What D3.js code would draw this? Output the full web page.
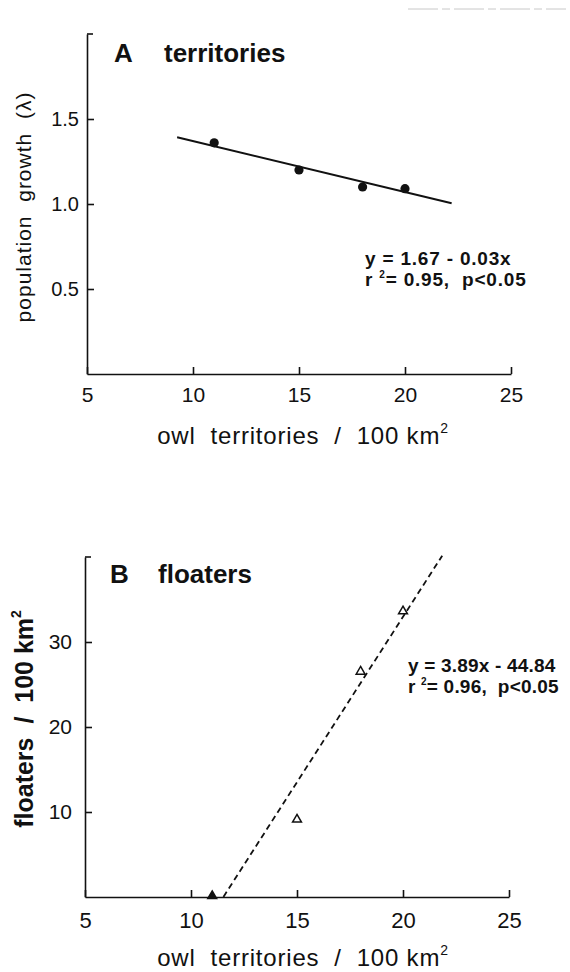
<!DOCTYPE html>
<html>
<head>
<meta charset="utf-8">
<script src="https://cdn.jsdelivr.net/npm/d3@7"></script>
<style>
  html, body { margin: 0; padding: 0; background: #fff; }
  svg { display: block; font-family: "Liberation Sans", Arial, Helvetica, sans-serif; }
</style>
</head>
<body>
<svg id="chart" width="570" height="972"></svg>
<script>
// ---- data ----
const xTicks = [5, 10, 15, 20, 25];

const territoriesX = [11, 15, 18, 20];
const territoriesLambda = [1.36, 1.20, 1.10, 1.09];
const lambdaTicks = [0.5, 1.0, 1.5];
const fitA = { intercept: 1.67, slope: -0.03, from: 9.25, to: 22.2 };
const eqA = ["y = 1.67 - 0.03x", "r", "= 0.95,  p<0.05"];

const floatersX = [11, 15, 18, 20];
const floatersY = [0, 9.0, 26.4, 33.5];
const floaterTicks = [10, 20, 30];
const fitB = { intercept: -44.84, slope: 3.89, from: 11.53, to: 21.85 };
const eqB = ["y = 3.89x - 44.84", "r", "= 0.96,  p<0.05"];

const svg = d3.select("#chart");
const FONT = "'Liberation Sans', Arial, Helvetica, sans-serif";

// faint scan artefact at top right
svg.append("line").attr("x1", 408).attr("x2", 566).attr("y1", 9).attr("y2", 9)
  .attr("stroke", "#c8c8c8").attr("stroke-width", 1).attr("stroke-dasharray", "30,4,8,4");

function styleAxis(g, fs) {
  g.select(".domain").attr("stroke", "#111").attr("stroke-width", 1.6);
  g.selectAll(".tick line").attr("stroke", "#111").attr("stroke-width", 1.6);
  g.selectAll(".tick text").attr("fill", "#111").attr("font-size", fs).attr("font-family", FONT);
}

function panel(o) {
  const { xs, ys } = o;
  const g = svg.append("g");

  // x axis
  const gx = g.append("g").attr("transform", `translate(0,${ys(0)})`)
    .call(d3.axisBottom(xs).tickValues(xTicks).tickSizeInner(-7).tickSizeOuter(0)
      .tickPadding(o.xPad).tickFormat(d3.format("d")));
  styleAxis(gx, o.xFs);

  // y axis
  const gy = g.append("g").attr("transform", `translate(${xs(5)},0)`)
    .call(d3.axisLeft(ys).tickValues(o.yTicks).tickSizeInner(-7).tickSizeOuter(0)
      .tickPadding(o.yPad).tickFormat(o.yFmt));
  styleAxis(gy, o.yFs);
  // small bracket at top of y axis
  g.append("line").attr("x1", xs(5)).attr("x2", xs(5) + 6)
    .attr("y1", ys.range()[1]).attr("y2", ys.range()[1])
    .attr("stroke", "#111").attr("stroke-width", 1.6);

  // panel label
  g.append("text").attr("x", o.labelX).attr("y", o.labelY)
    .attr("font-size", 26).attr("font-weight", "bold").attr("fill", "#111").text(o.letter);
  g.append("text").attr("x", o.titleX).attr("y", o.labelY)
    .attr("font-size", 26).attr("font-weight", "bold").attr("fill", "#111").text(o.title);

  // x title
  const xt = g.append("text").attr("x", o.xTitleX).attr("y", o.xTitleY)
    .attr("text-anchor", "middle").attr("font-size", 24).attr("fill", "#111")
    .attr("letter-spacing", 0.8).style("white-space", "pre");
  xt.append("tspan").text("owl  territories  /  100 km");
  xt.append("tspan").attr("font-size", 14).attr("dy", -11).text("2");

  // equation
  const eq = o.eq;
  g.append("text").attr("x", o.eqX).attr("y", o.eqY)
    .attr("font-size", 19).attr("font-weight", "bold").attr("fill", "#111")
    .attr("letter-spacing", o.eqLs).style("white-space", "pre").text(eq[0]);
  const t2 = g.append("text").attr("x", o.eqX).attr("y", o.eqY + 21)
    .attr("font-size", 19).attr("font-weight", "bold").attr("fill", "#111")
    .attr("letter-spacing", o.eqLs).style("white-space", "pre");
  t2.append("tspan").text(eq[1] + " ");
  t2.append("tspan").attr("font-size", 10).attr("dy", -8).text("2");
  t2.append("tspan").attr("dy", 8).text(eq[2]);

  return g;
}

// ---------- Panel A ----------
const xA = d3.scaleLinear().domain([5, 25]).range([87, 511]);
const yA = d3.scaleLinear().domain([0, 2]).range([374, 34]);
const gA = panel({
  xs: xA, ys: yA, yTicks: lambdaTicks, yFmt: d3.format(".1f"), yPad: 8, yFs: 20,
  xPad: 13, xFs: 21,
  letter: "A", title: "territories", labelX: 114, titleX: 164, labelY: 62,
  xTitleX: 303, xTitleY: 444, eq: eqA, eqX: 365, eqY: 265, eqLs: 0.8
});
gA.append("text").attr("transform", "translate(31,207) rotate(-90)")
  .attr("text-anchor", "middle").attr("font-size", 21).attr("fill", "#111")
  .attr("letter-spacing", 1).style("white-space", "pre").text("population  growth  (λ)");

gA.append("line")
  .attr("x1", xA(fitA.from)).attr("y1", yA(fitA.intercept + fitA.slope * fitA.from))
  .attr("x2", xA(fitA.to)).attr("y2", yA(fitA.intercept + fitA.slope * fitA.to))
  .attr("stroke", "#111").attr("stroke-width", 2);

gA.selectAll("circle.pt").data(territoriesX).join("circle").attr("class", "pt")
  .attr("cx", (d) => xA(d)).attr("cy", (d, i) => yA(territoriesLambda[i]))
  .attr("r", 4.6).attr("fill", "#111");

// ---------- Panel B ----------
const xB = d3.scaleLinear().domain([5, 25]).range([85, 509]);
const yB = d3.scaleLinear().domain([0, 40]).range([897, 557]);
const gB = panel({
  xs: xB, ys: yB, yTicks: floaterTicks, yFmt: d3.format("d"), yPad: 13, yFs: 21,
  xPad: 15, xFs: 22,
  letter: "B", title: "floaters", labelX: 110, titleX: 158, labelY: 583,
  xTitleX: 303, xTitleY: 966, eq: eqB, eqX: 408, eqY: 672, eqLs: 0.2
});
const ytB = gB.append("text").attr("transform", "translate(33,719) rotate(-90)")
  .attr("text-anchor", "middle").attr("font-size", 25).attr("font-weight", "bold").attr("fill", "#111")
  .style("white-space", "pre");
ytB.append("tspan").text("floaters  /  100 km");
ytB.append("tspan").attr("font-size", 14).attr("dy", -12).text("2");

gB.append("line")
  .attr("x1", xB(fitB.from)).attr("y1", yB(fitB.intercept + fitB.slope * fitB.from))
  .attr("x2", xB(fitB.to)).attr("y2", yB(fitB.intercept + fitB.slope * fitB.to))
  .attr("stroke", "#111").attr("stroke-width", 1.8).attr("stroke-dasharray", "6,4");

const tri = d3.symbol().type(d3.symbolTriangle).size(34);
gB.selectAll("path.pt").data(floatersX).join("path").attr("class", "pt")
  .attr("d", tri)
  .attr("transform", (d, i) => `translate(${xB(d)},${yB(floatersY[i]) - 1})`)
  .attr("fill", (d, i) => floatersY[i] === 0 ? "#111" : "#fff")
  .attr("stroke", "#111").attr("stroke-width", 1.5);
</script>
</body>
</html>
